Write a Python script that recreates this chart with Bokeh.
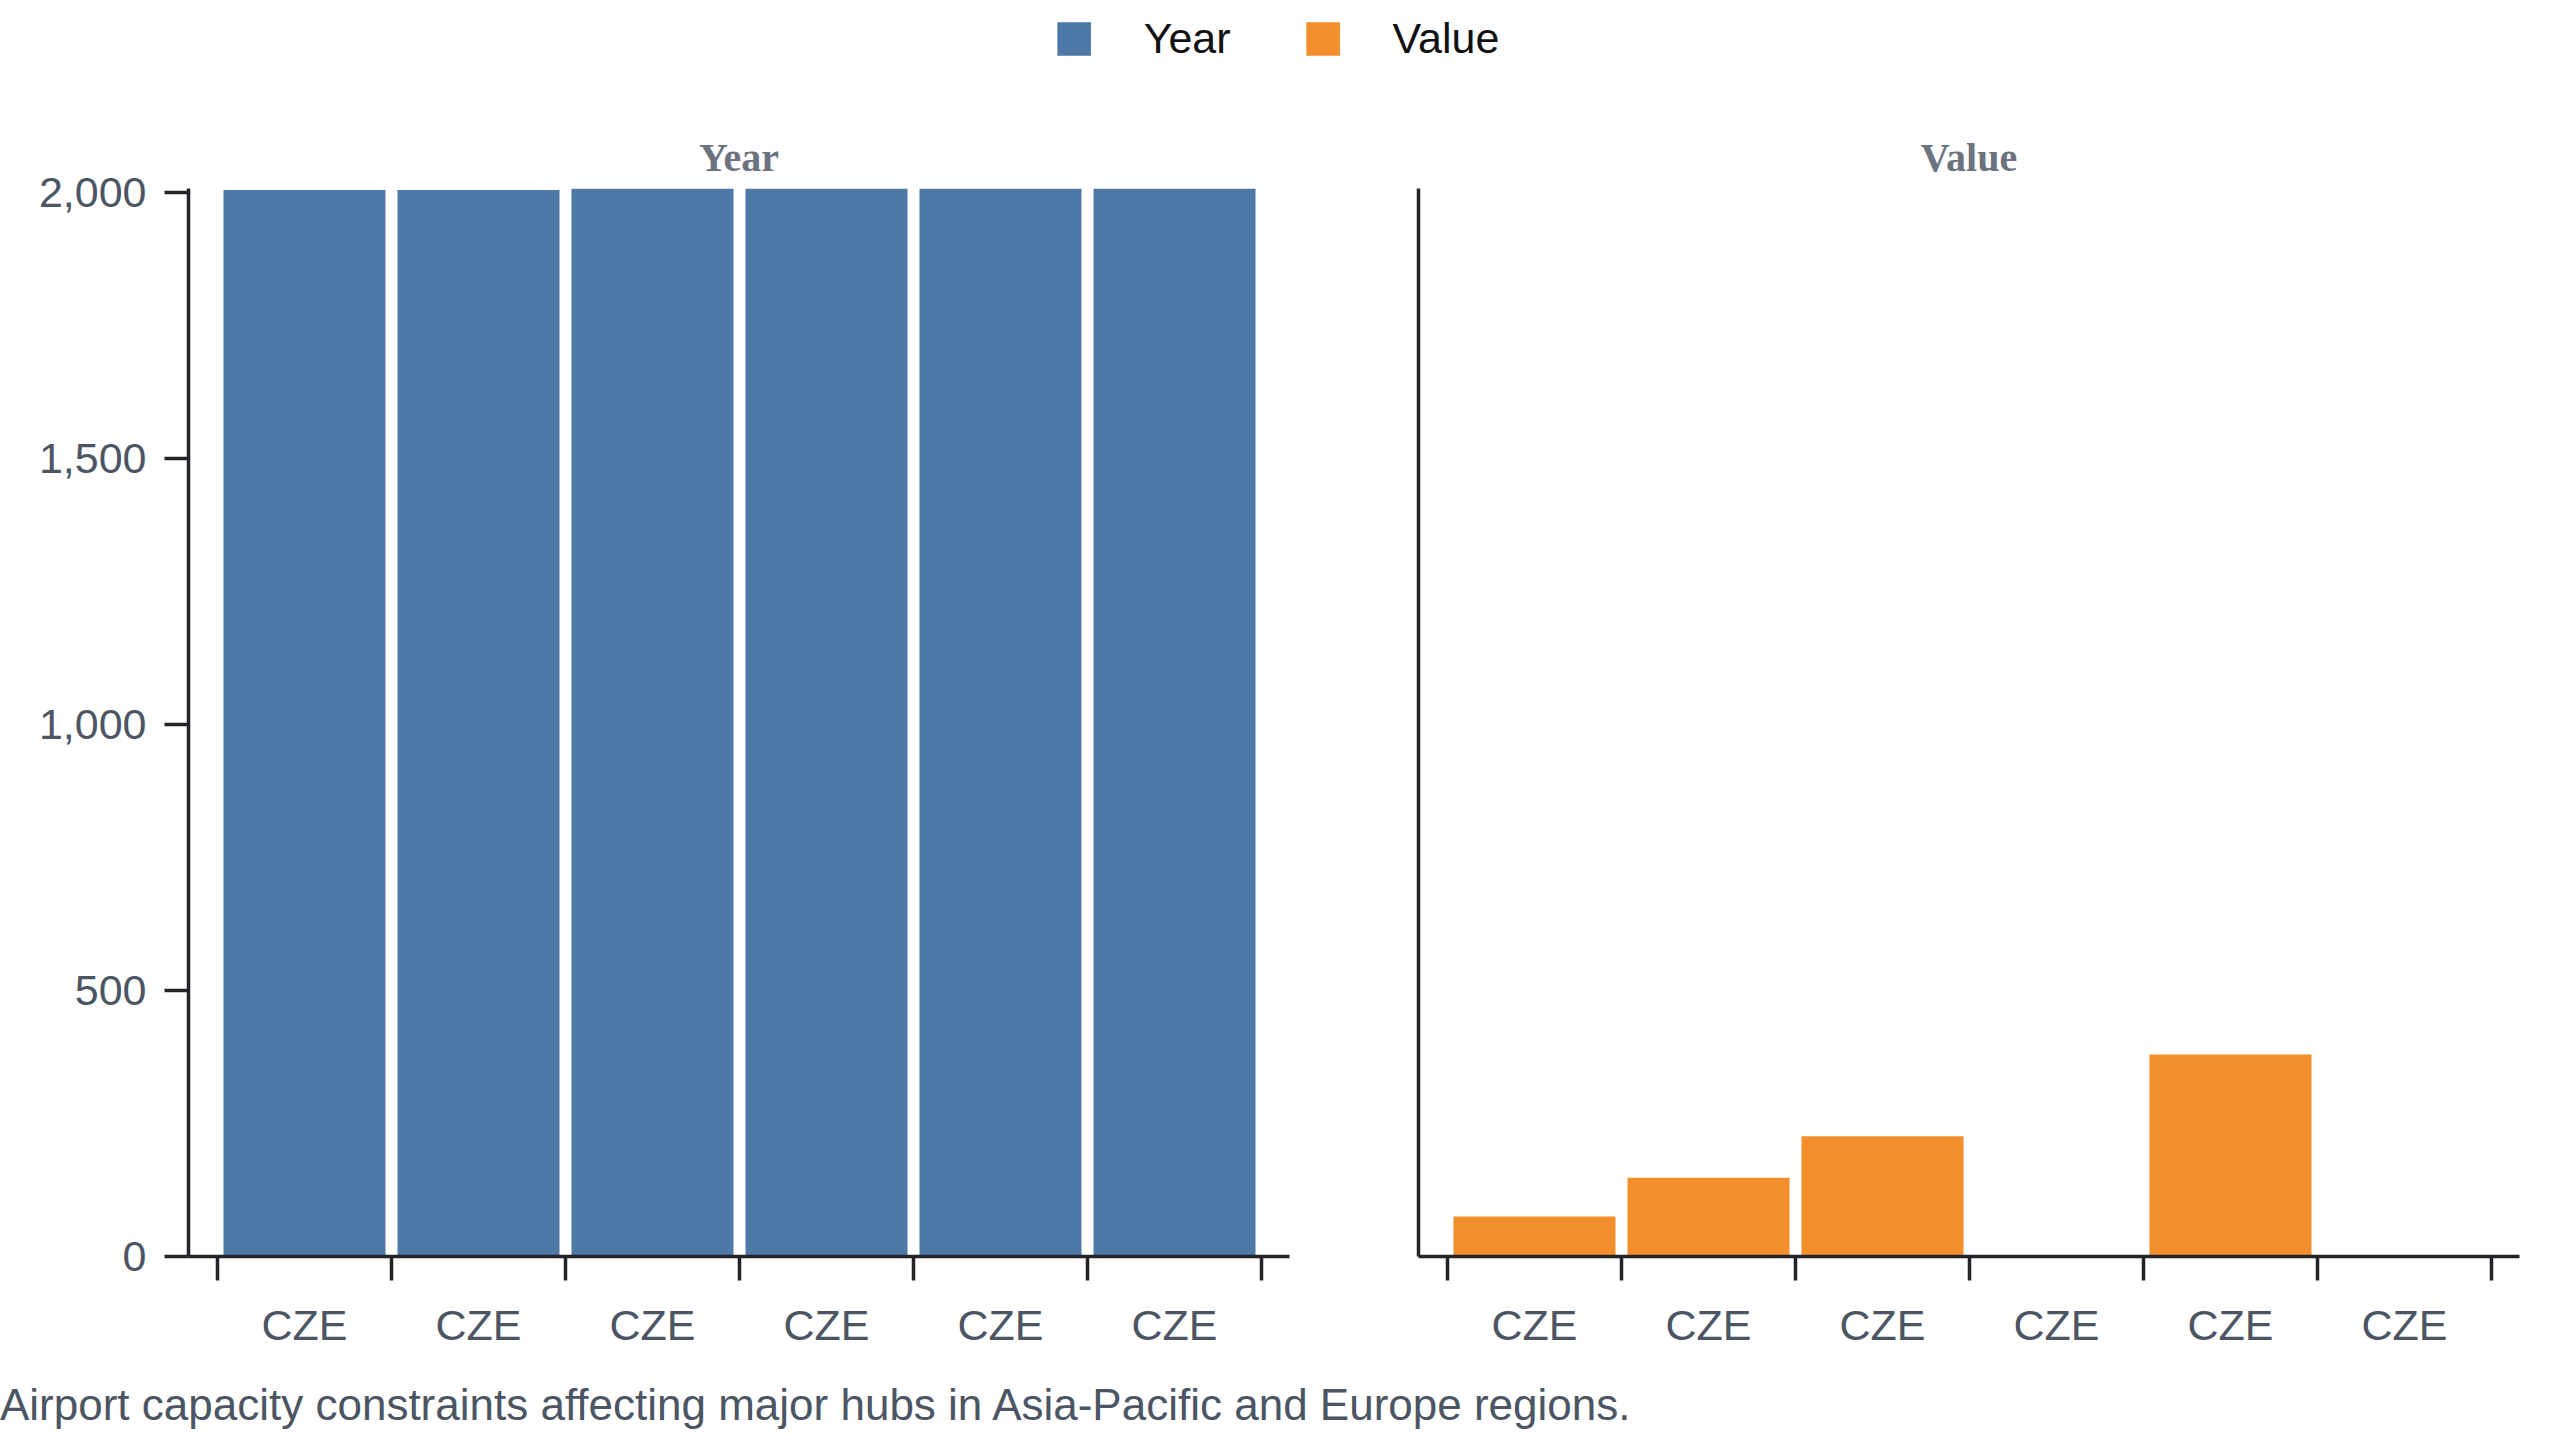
from bokeh.plotting import figure
from bokeh.layouts import column, row
from bokeh.models import (ColumnDataSource, Range1d, FixedTicker, NumeralTickFormatter,
                          Legend, LegendItem, Div)
from bokeh.embed import file_html
from bokeh.resources import INLINE

# data
countries = ["CZE", "CZE", "CZE", "CZE", "CZE", "CZE"]
years = [2005, 2005, 2008, 2008, 2008, 2008]
values = [75, 148, 226, 0, 380, 0]
series = ["Year", "Value"]
colors = ["#4e79a7", "#f28e2b"]
y_ticks = [0, 500, 1000, 1500, 2000]
caption = "Airport capacity constraints affecting major hubs in Asia-Pacific and Europe regions."

n = len(countries)
centers = [i + 0.5 for i in range(n)]
edges = list(range(n + 1))
source = ColumnDataSource(data=dict(x=centers, Year=years, Value=values, country=countries))

SANS = "Liberation Sans"
AXIS = "#222428"
LABEL = "#4b5563"
FS = "43px"
y_max = max(max(years), max(values))


def panel(name, color, width, left, right, show_ticks):
    p = figure(width=width, height=1307,
               x_range=Range1d(-29 / 174, n + 28 / 174), y_range=Range1d(0, y_max),
               output_backend="svg", toolbar_location=None,
               min_border_left=left, min_border_right=right,
               min_border_top=112, min_border_bottom=127,
               outline_line_color=None)
    p.vbar(x="x", top=name, width=162 / 174, source=source,
           fill_color=color, line_color=None)
    p.grid.visible = False

    p.title.text = name
    p.title.align = "center"
    p.title.text_font = "Liberation Serif"
    p.title.text_font_style = "bold"
    p.title.text_font_size = "40px"
    p.title.text_color = "#6b7280"
    p.title.standoff = 18

    xa = p.xaxis[0]
    xa.ticker = FixedTicker(ticks=centers, minor_ticks=edges)
    xa.major_label_overrides = {c: lab for c, lab in zip(centers, countries)}
    xa.major_tick_line_color = None
    xa.major_tick_in = 0
    xa.major_tick_out = 24
    xa.minor_tick_in = 0
    xa.minor_tick_out = 24
    xa.minor_tick_line_color = AXIS
    xa.minor_tick_line_width = 3.5
    xa.axis_line_color = AXIS
    xa.axis_line_width = 3.5
    xa.major_label_standoff = 20
    xa.major_label_text_font = SANS
    xa.major_label_text_font_size = FS
    xa.major_label_text_color = LABEL

    ya = p.yaxis[0]
    ya.axis_line_color = AXIS
    ya.axis_line_width = 3.5
    ya.minor_tick_line_color = None
    if show_ticks:
        ya.ticker = FixedTicker(ticks=y_ticks)
        ya.formatter = NumeralTickFormatter(format="0,0")
        ya.major_tick_in = 0
        ya.major_tick_out = 24
        ya.major_tick_line_color = AXIS
        ya.major_tick_line_width = 3.5
        ya.major_label_standoff = 18
        ya.major_label_text_font = SANS
        ya.major_label_text_font_size = FS
        ya.major_label_text_color = LABEL
    else:
        ya.ticker = FixedTicker(ticks=[])
        ya.major_tick_line_color = None
    return p


left = panel(series[0], colors[0], 1353, 188, 64, True)
right = panel(series[1], colors[1], 1199, 65, 33, False)

# shared legend strip across the top; proxy renderers are hidden and out of range
leg = figure(width=2552, height=76, x_range=Range1d(1000, 1001), y_range=Range1d(-2 * y_max, -y_max),
             output_backend="svg", toolbar_location=None, min_border=0,
             x_axis_location=None, y_axis_location=None, outline_line_color=None)
leg.grid.visible = False
items = []
for name, color in zip(series, colors):
    r = leg.vbar(x="x", top=name, width=0.9, source=source, fill_color=color, line_color=None)
    r.visible = False
    items.append(LegendItem(label=name, renderers=[r]))
legend = Legend(items=items, orientation="horizontal", location="center",
                border_line_color=None, background_fill_alpha=0,
                inactive_fill_alpha=0,
                padding=0, margin=0, spacing=71,
                glyph_width=42, glyph_height=42, label_standoff=49,
                label_text_font=SANS, label_text_font_size=FS, label_text_color="#111111")
leg.add_layout(legend, "center")

note = Div(text=caption, width=2552, margin=0,
           styles={"font-family": "'Liberation Sans', Arial, sans-serif",
                   "font-size": "44px", "color": LABEL, "line-height": "1.0",
                   "white-space": "nowrap"})

page = column(leg, row(left, right), note)
open("out.html", "w").write(file_html(page, INLINE))
